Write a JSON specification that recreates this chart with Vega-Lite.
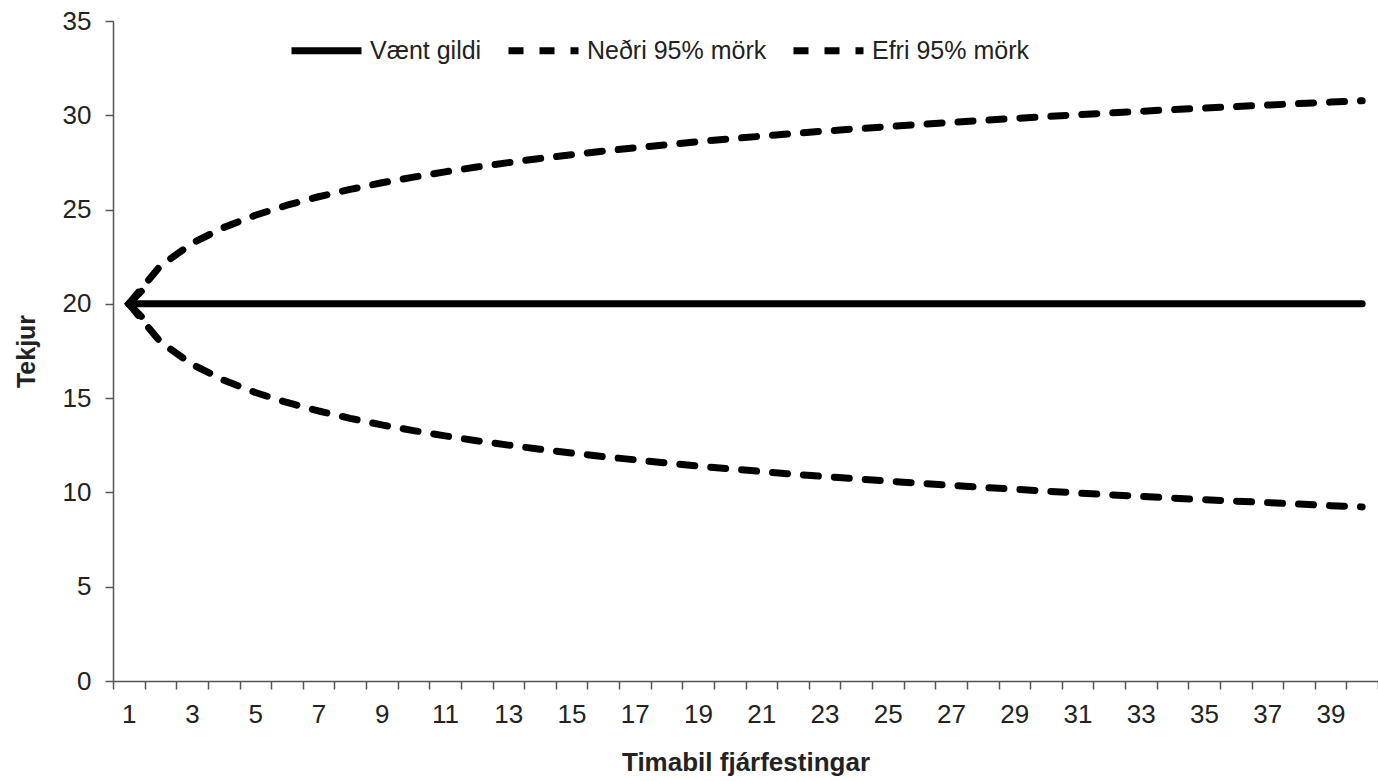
{
  "$schema": "https://vega.github.io/schema/vega-lite/v6.json",
  "width": 1265,
  "height": 660,
  "autosize": "none",
  "padding": {"left": 113, "top": 21, "right": 0, "bottom": 100},
  "background": "white",
  "config": {
    "font": "Liberation Sans",
    "view": {"stroke": null},
    "axis": {"grid": false, "domainColor": "#555555", "domainWidth": 1.5, "tickColor": "#555555", "tickWidth": 1.5, "tickSize": 8, "labelFont": "Liberation Sans", "labelFontSize": 26, "labelColor": "#222222", "titleFont": "Liberation Sans", "titleFontSize": 26, "titleFontWeight": "bold", "titleColor": "#222222"}
  },
  "datasets": {
    "lines": [
      {"t": 1, "series": "Vænt gildi", "value": 20}, {"t": 2, "series": "Vænt gildi", "value": 20}, {"t": 3, "series": "Vænt gildi", "value": 20}, {"t": 4, "series": "Vænt gildi", "value": 20}, {"t": 5, "series": "Vænt gildi", "value": 20}, {"t": 6, "series": "Vænt gildi", "value": 20}, {"t": 7, "series": "Vænt gildi", "value": 20}, {"t": 8, "series": "Vænt gildi", "value": 20}, {"t": 9, "series": "Vænt gildi", "value": 20}, {"t": 10, "series": "Vænt gildi", "value": 20},
      {"t": 11, "series": "Vænt gildi", "value": 20}, {"t": 12, "series": "Vænt gildi", "value": 20}, {"t": 13, "series": "Vænt gildi", "value": 20}, {"t": 14, "series": "Vænt gildi", "value": 20}, {"t": 15, "series": "Vænt gildi", "value": 20}, {"t": 16, "series": "Vænt gildi", "value": 20}, {"t": 17, "series": "Vænt gildi", "value": 20}, {"t": 18, "series": "Vænt gildi", "value": 20}, {"t": 19, "series": "Vænt gildi", "value": 20}, {"t": 20, "series": "Vænt gildi", "value": 20},
      {"t": 21, "series": "Vænt gildi", "value": 20}, {"t": 22, "series": "Vænt gildi", "value": 20}, {"t": 23, "series": "Vænt gildi", "value": 20}, {"t": 24, "series": "Vænt gildi", "value": 20}, {"t": 25, "series": "Vænt gildi", "value": 20}, {"t": 26, "series": "Vænt gildi", "value": 20}, {"t": 27, "series": "Vænt gildi", "value": 20}, {"t": 28, "series": "Vænt gildi", "value": 20}, {"t": 29, "series": "Vænt gildi", "value": 20}, {"t": 30, "series": "Vænt gildi", "value": 20},
      {"t": 31, "series": "Vænt gildi", "value": 20}, {"t": 32, "series": "Vænt gildi", "value": 20}, {"t": 33, "series": "Vænt gildi", "value": 20}, {"t": 34, "series": "Vænt gildi", "value": 20}, {"t": 35, "series": "Vænt gildi", "value": 20}, {"t": 36, "series": "Vænt gildi", "value": 20}, {"t": 37, "series": "Vænt gildi", "value": 20}, {"t": 38, "series": "Vænt gildi", "value": 20}, {"t": 39, "series": "Vænt gildi", "value": 20}, {"t": 40, "series": "Vænt gildi", "value": 20},
      {"t": 1, "series": "Neðri 95% mörk", "value": 20.0}, {"t": 2, "series": "Neðri 95% mörk", "value": 17.98}, {"t": 3, "series": "Neðri 95% mörk", "value": 16.79}, {"t": 4, "series": "Neðri 95% mörk", "value": 15.95}, {"t": 5, "series": "Neðri 95% mörk", "value": 15.3}, {"t": 6, "series": "Neðri 95% mörk", "value": 14.77}, {"t": 7, "series": "Neðri 95% mörk", "value": 14.32}, {"t": 8, "series": "Neðri 95% mörk", "value": 13.93}, {"t": 9, "series": "Neðri 95% mörk", "value": 13.58}, {"t": 10, "series": "Neðri 95% mörk", "value": 13.28},
      {"t": 11, "series": "Neðri 95% mörk", "value": 13.0}, {"t": 12, "series": "Neðri 95% mörk", "value": 12.74}, {"t": 13, "series": "Neðri 95% mörk", "value": 12.51}, {"t": 14, "series": "Neðri 95% mörk", "value": 12.29}, {"t": 15, "series": "Neðri 95% mörk", "value": 12.09}, {"t": 16, "series": "Neðri 95% mörk", "value": 11.9}, {"t": 17, "series": "Neðri 95% mörk", "value": 11.73}, {"t": 18, "series": "Neðri 95% mörk", "value": 11.56}, {"t": 19, "series": "Neðri 95% mörk", "value": 11.4}, {"t": 20, "series": "Neðri 95% mörk", "value": 11.25},
      {"t": 21, "series": "Neðri 95% mörk", "value": 11.11}, {"t": 22, "series": "Neðri 95% mörk", "value": 10.97}, {"t": 23, "series": "Neðri 95% mörk", "value": 10.84}, {"t": 24, "series": "Neðri 95% mörk", "value": 10.72}, {"t": 25, "series": "Neðri 95% mörk", "value": 10.6}, {"t": 26, "series": "Neðri 95% mörk", "value": 10.49}, {"t": 27, "series": "Neðri 95% mörk", "value": 10.38}, {"t": 28, "series": "Neðri 95% mörk", "value": 10.27}, {"t": 29, "series": "Neðri 95% mörk", "value": 10.17}, {"t": 30, "series": "Neðri 95% mörk", "value": 10.07},
      {"t": 31, "series": "Neðri 95% mörk", "value": 9.97}, {"t": 32, "series": "Neðri 95% mörk", "value": 9.88}, {"t": 33, "series": "Neðri 95% mörk", "value": 9.79}, {"t": 34, "series": "Neðri 95% mörk", "value": 9.7}, {"t": 35, "series": "Neðri 95% mörk", "value": 9.62}, {"t": 36, "series": "Neðri 95% mörk", "value": 9.54}, {"t": 37, "series": "Neðri 95% mörk", "value": 9.46}, {"t": 38, "series": "Neðri 95% mörk", "value": 9.38}, {"t": 39, "series": "Neðri 95% mörk", "value": 9.3}, {"t": 40, "series": "Neðri 95% mörk", "value": 9.23},
      {"t": 1, "series": "Efri 95% mörk", "value": 20.0}, {"t": 2, "series": "Efri 95% mörk", "value": 22.02}, {"t": 3, "series": "Efri 95% mörk", "value": 23.21}, {"t": 4, "series": "Efri 95% mörk", "value": 24.05}, {"t": 5, "series": "Efri 95% mörk", "value": 24.7}, {"t": 6, "series": "Efri 95% mörk", "value": 25.23}, {"t": 7, "series": "Efri 95% mörk", "value": 25.68}, {"t": 8, "series": "Efri 95% mörk", "value": 26.07}, {"t": 9, "series": "Efri 95% mörk", "value": 26.42}, {"t": 10, "series": "Efri 95% mörk", "value": 26.72},
      {"t": 11, "series": "Efri 95% mörk", "value": 27.0}, {"t": 12, "series": "Efri 95% mörk", "value": 27.26}, {"t": 13, "series": "Efri 95% mörk", "value": 27.49}, {"t": 14, "series": "Efri 95% mörk", "value": 27.71}, {"t": 15, "series": "Efri 95% mörk", "value": 27.91}, {"t": 16, "series": "Efri 95% mörk", "value": 28.1}, {"t": 17, "series": "Efri 95% mörk", "value": 28.27}, {"t": 18, "series": "Efri 95% mörk", "value": 28.44}, {"t": 19, "series": "Efri 95% mörk", "value": 28.6}, {"t": 20, "series": "Efri 95% mörk", "value": 28.75},
      {"t": 21, "series": "Efri 95% mörk", "value": 28.89}, {"t": 22, "series": "Efri 95% mörk", "value": 29.03}, {"t": 23, "series": "Efri 95% mörk", "value": 29.16}, {"t": 24, "series": "Efri 95% mörk", "value": 29.28}, {"t": 25, "series": "Efri 95% mörk", "value": 29.4}, {"t": 26, "series": "Efri 95% mörk", "value": 29.51}, {"t": 27, "series": "Efri 95% mörk", "value": 29.62}, {"t": 28, "series": "Efri 95% mörk", "value": 29.73}, {"t": 29, "series": "Efri 95% mörk", "value": 29.83}, {"t": 30, "series": "Efri 95% mörk", "value": 29.93},
      {"t": 31, "series": "Efri 95% mörk", "value": 30.03}, {"t": 32, "series": "Efri 95% mörk", "value": 30.12}, {"t": 33, "series": "Efri 95% mörk", "value": 30.21}, {"t": 34, "series": "Efri 95% mörk", "value": 30.3}, {"t": 35, "series": "Efri 95% mörk", "value": 30.38}, {"t": 36, "series": "Efri 95% mörk", "value": 30.46}, {"t": 37, "series": "Efri 95% mörk", "value": 30.54}, {"t": 38, "series": "Efri 95% mörk", "value": 30.62}, {"t": 39, "series": "Efri 95% mörk", "value": 30.7}, {"t": 40, "series": "Efri 95% mörk", "value": 30.77}
    ]
  },
  "data": {"name": "lines"},
  "encoding": {
    "x": {
      "field": "t", "type": "ordinal", "bandPosition": 0.5,
      "scale": {"type": "band", "paddingInner": 0, "paddingOuter": 0},
      "axis": {"title": "Timabil fjárfestingar", "labelAngle": 0, "tickBand": "extent", "labelOverlap": false, "labelPadding": 12, "titlePadding": 22, "labelFontSize": 26, "titleFontSize": 26, "labelExpr": "datum.value % 2 == 1 ? datum.label : ''"}
    },
    "y": {
      "field": "value", "type": "quantitative",
      "scale": {"domain": [0, 35], "nice": false, "zero": true},
      "axis": {"title": "Tekjur", "values": [0, 5, 10, 15, 20, 25, 30, 35], "labelPadding": 14, "titlePadding": 23, "labelFontSize": 26, "titleFontSize": 25}
    }
  },
  "layer": [
    {
      "mark": {"type": "line", "stroke": "black", "strokeWidth": 7, "strokeCap": "round", "strokeJoin": "round"},
      "encoding": {
        "strokeDash": {
          "field": "series", "type": "nominal",
          "scale": {"domain": ["Vænt gildi", "Neðri 95% mörk", "Efri 95% mörk"], "range": [[1, 0], [15, 16], [15, 16]]},
          "legend": {
            "title": null, "orient": "none", "direction": "horizontal", "legendX": 175, "legendY": -9,
            "symbolType": "stroke", "symbolSize": 4900, "symbolStrokeWidth": 7, "symbolStrokeColor": "black",
            "labelFont": "Liberation Sans", "labelFontSize": 25, "labelColor": "#222222", "labelOffset": 5, "labelLimit": 400, "columnPadding": 12
          }
        }
      }
    },
    {
      "transform": [{"filter": "datum.series == 'Vænt gildi' && datum.t == 1"}],
      "mark": {"type": "point", "shape": "M1,-1L0,0L1,1", "size": 625, "filled": false, "stroke": "black", "strokeWidth": 7, "strokeCap": "round", "strokeJoin": "miter", "opacity": 1}
    }
  ]
}
